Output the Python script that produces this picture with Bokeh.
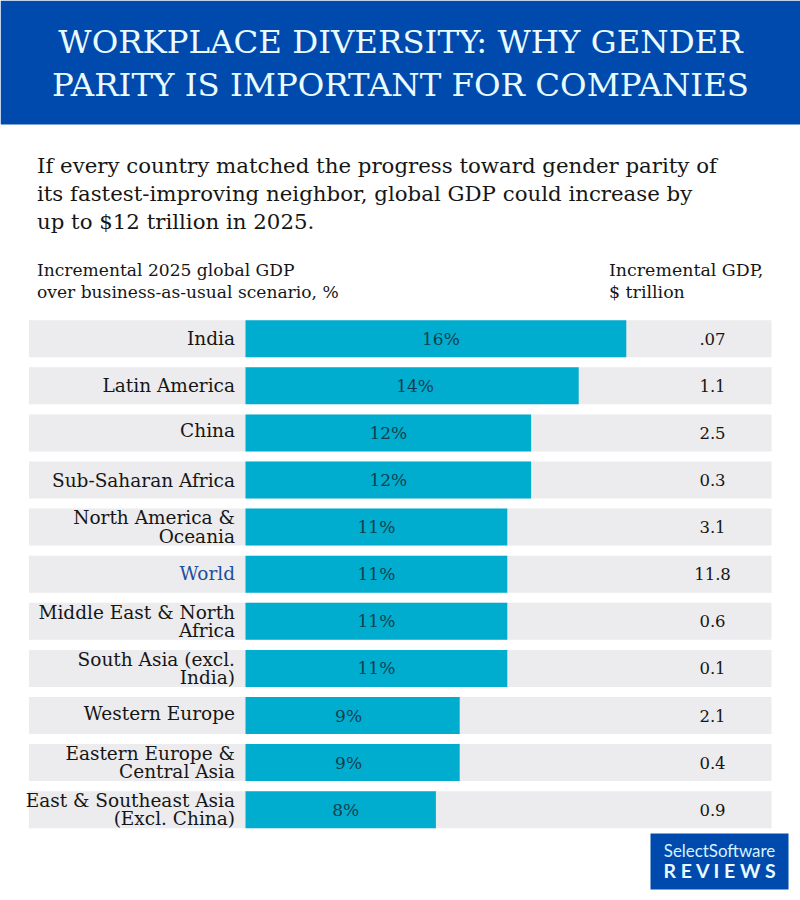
from bokeh.embed import file_html
from bokeh.resources import INLINE
from bokeh.plotting import figure
from bokeh.core.properties import value
from bokeh.models import ColumnDataSource, Range1d, Label, BoxAnnotation

categories = ["India", "Latin America", "China", "Sub-Saharan Africa",
              "North America &\nOceania", "World", "Middle East & North\nAfrica",
              "South Asia (excl.\nIndia)", "Western Europe",
              "Eastern Europe &\nCentral Asia", "East & Southeast Asia\n(Excl. China)"]
share_pct = [16, 14, 12, 12, 11, 11, 11, 11, 9, 9, 8]
gdp_labels = [".07", "1.1", "2.5", "0.3", "3.1", "11.8", "0.6", "0.1", "2.1", "0.4", "0.9"]
title_lines = ["WORKPLACE DIVERSITY: WHY GENDER", "PARITY IS IMPORTANT FOR COMPANIES"]
intro_lines = ["If every country matched the progress toward gender parity of",
               "its fastest-improving neighbor, global GDP could increase by",
               "up to $12 trillion in 2025."]
left_head = ["Incremental 2025 global GDP", "over business-as-usual scenario, %"]
right_head = ["Incremental GDP,", "$ trillion"]

SERIF = "DejaVu Serif"
W, H = 800, 900
PX_PER_PCT = 23.8
X0, ROW0, ROW_STEP = 245, 338.2, 47.1
x_of = lambda px: (px - X0) / PX_PER_PCT
y_of = lambda py: (py - ROW0) / ROW_STEP

p = figure(width=W, height=H, output_backend="svg", toolbar_location=None,
           x_range=Range1d(x_of(0), x_of(800)), y_range=Range1d(y_of(900), y_of(0)),
           min_border=0, outline_line_color=None, background_fill_color="white",
           border_fill_color="white")
p.axis.visible = False
p.grid.visible = False

rows = list(range(len(categories)))
src = ColumnDataSource(dict(
    row=rows, cat=categories, pct=share_pct, gdp=gdp_labels,
    pct_text=[f"{v}%" for v in share_pct],
    mid=[v / 2 for v in share_pct],
    left_bg=[x_of(28.5)] * len(rows), right_bg=[x_of(771)] * len(rows),
    zero=[0] * len(rows), lab_x=[x_of(234.5)] * len(rows), gdp_x=[x_of(712)] * len(rows),
    lab_col=["#1f4e9e" if c == "World" else "#161616" for c in categories],
    pct_dx=[5, 3, 0, 0, 0, 0, 0, 0, -4, -4, 5],
    lab_dy=[0, 0, -2, 0, 0, -1, 0, 0, -2, 0, 0],
))
bar_h = 37 / ROW_STEP
p.hbar(y="row", left="left_bg", right="right_bg", height=bar_h, source=src,
       color="#ecebed", line_color=None)
p.hbar(y="row", left="zero", right="pct", height=bar_h, source=src,
       color="#00adcf", line_color=None)
p.text(x="lab_x", y="row", text="cat", source=src, text_align="right", text_baseline="middle",
       y_offset="lab_dy", text_font=value(SERIF), text_font_size="18.5px", text_color="lab_col",
       text_line_height=0.87)
p.text(x="mid", y="row", text="pct_text", source=src, text_align="center", text_baseline="middle",
       x_offset="pct_dx", text_font=value(SERIF), text_font_size="17px", text_color="#123f50")
p.text(x="gdp_x", y="row", text="gdp", source=src, text_align="center", text_baseline="middle",
       text_font=value(SERIF), text_font_size="16.5px", text_color="#161616")

def put(text, px, py, size, color="#161616", font=SERIF, align="left", style="normal"):
    p.add_layout(Label(x=x_of(px), y=y_of(py), text=text, text_font=font,
                       text_font_size=f"{size}px", text_color=color, text_align=align,
                       text_baseline="middle", text_font_style=style))

p.add_layout(BoxAnnotation(left=x_of(0), right=x_of(800), top=y_of(0), bottom=y_of(124),
                           fill_color="#004aad", fill_alpha=1, line_color=None, level="underlay"))
put(title_lines[0], 400, 41, 32.4, "#e8fbff", align="center")
put(title_lines[1], 400, 84, 32.4, "#e8fbff", align="center")
for line, py in zip(intro_lines, [165, 193, 221]):
    put(line, 36.5, py, 21.3)
for line, py in zip(left_head, [269.5, 291.5]):
    put(line, 36.5, py, 17.1)
for line, py in zip(right_head, [269.5, 291.5]):
    put(line, 608.5, py, 17.4)

p.add_layout(BoxAnnotation(left=x_of(650), right=x_of(788), top=y_of(833), bottom=y_of(889),
                           fill_color="#004aad", fill_alpha=1, line_color=None, level="underlay"))
put("SelectSoftware", 719, 850, 16.9, "#d6f2ff", "Lato", "center")
put("R E V I E W S", 720, 870, 19.5, "#e8fbff", "Lato", "center", "bold")

open("out.html", "w").write(file_html(p, INLINE))
